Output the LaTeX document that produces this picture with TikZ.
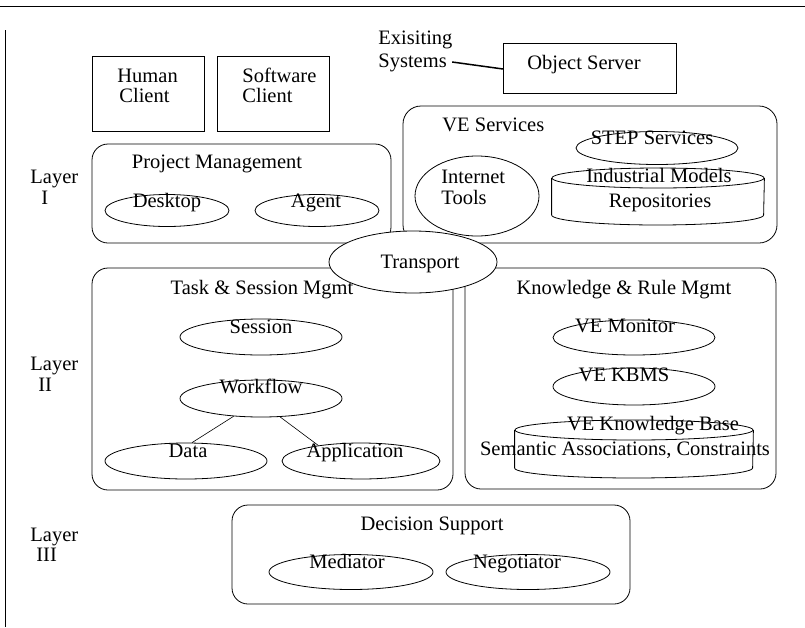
\documentclass[tikz,border=0pt]{standalone}
\usepackage{fontspec}
\setmainfont{Liberation Serif}
\usetikzlibrary{shapes.geometric}
\begin{document}
\begin{tikzpicture}[x=1pt,y=-1pt,line width=0.8pt,
  txt/.style={font=\fontsize{20.5}{24}\selectfont,inner sep=0pt,text height=14pt,text depth=4pt},
  rbox/.style={draw,rectangle,inner sep=0pt},
  grp/.style={draw,rectangle,rounded corners=16pt,inner sep=0pt},
  ell/.style={draw,ellipse,inner sep=0pt},
]
\useasboundingbox (0,0) rectangle (805,627);
% frame lines
\coordinate (tl) at (0,6);
\coordinate (tr) at (805,6);
\coordinate (lt) at (5,30);
\coordinate (lb) at (5,627);
\draw (tl) -- (tr);
\draw (lt) -- (lb);

% top row
\node[rbox,minimum width=112pt,minimum height=75pt] (human) at (148,93.5) {};
\node[txt,anchor=west] (humanA) at (117,77) {Human};
\node[txt,anchor=west] (humanB) at (119,97) {Client};
\node[rbox,minimum width=112pt,minimum height=75pt] (soft) at (273,93.5) {};
\node[txt,anchor=west] (softA) at (242,77) {Software};
\node[txt,anchor=west] (softB) at (242,97) {Client};
\node[rbox,minimum width=173pt,minimum height=50pt] (obj) at (589.5,68) {};
\node[txt] (objt) at (584,64) {Object Server};
\node[txt,anchor=west] (exis) at (378,39) {Exisiting};
\node[txt,anchor=west] (sys) at (378,62) {Systems};
\coordinate (objin) at (503,69);
\draw[line width=1.5pt] ([xshift=5pt]sys.east) -- (objin);

% Layer I
\node[txt,anchor=west] (l1a) at (30,178) {Layer};
\node[txt,anchor=west] (l1b) at (41,199) {I};
\node[grp,minimum width=299pt,minimum height=99pt] (pm) at (241.5,193.5) {};
\node[txt] (pmt) at (217,163) {Project Management};
\node[ell,minimum width=124pt,minimum height=32pt] (desk) at (167,210.5) {};
\node[txt] (deskt) at (167,202) {Desktop};
\node[ell,minimum width=124pt,minimum height=32pt] (agent) at (317,210.5) {};
\node[txt] (agentt) at (316,202) {Agent};

\node[grp,rounded corners=18pt,minimum width=374pt,minimum height=137pt] (ves) at (590,174.5) {};
\node[txt,anchor=west] (vest) at (442,126) {VE Services};
\node[ell,minimum width=124pt,minimum height=80pt] (inet) at (477,196) {};
\node[txt,anchor=west] (ineta) at (441,178) {Internet};
\node[txt,anchor=west] (inetb) at (441,199) {Tools};
\node[ell,minimum width=162pt,minimum height=33pt] (step) at (657,148) {};
\node[txt] (stept) at (652,139) {STEP Services};
\node[ell,minimum width=212pt,minimum height=20pt] (indtop) at (658,178) {};
\draw (indtop.west) -- ++(0,37) arc[start angle=180,end angle=360,x radius=106pt,y radius=10pt] -- (indtop.east);
\node[txt] (inda) at (659,177) {Industrial Models};
\node[txt] (indb) at (660,202) {Repositories};

% Layer II
\node[txt,anchor=west] (l2a) at (30,365) {Layer};
\node[txt,anchor=west] (l2b) at (38,386) {II};
\node[grp,minimum width=361pt,minimum height=222pt] (task) at (272.5,379) {};
\node[txt] (taskt) at (262,289) {Task \& Session Mgmt};
\node[ell,minimum width=162pt,minimum height=36pt] (sess) at (261,337) {};
\node[txt] (sesst) at (261,328) {Session};
\node[ell,minimum width=162pt,minimum height=37pt] (wf) at (261,398.5) {};
\node[txt] (wft) at (261,388) {Workflow};
\node[ell,minimum width=162pt,minimum height=36pt] (data) at (186,461) {};
\node[txt] (datat) at (188,452) {Data};
\node[ell,minimum width=158pt,minimum height=36pt] (app) at (361,461) {};
\node[txt] (appt) at (355,452) {Application};
\draw[line width=0.6pt] (wf.213) -- (data.72);
\draw[line width=0.6pt] (wf.316) -- (app.160);

\node[grp,minimum width=311pt,minimum height=221pt] (know) at (620.5,378.5) {};
\node[txt] (knowt) at (624,289) {Knowledge \& Rule Mgmt};
\node[ell,minimum width=162pt,minimum height=35pt] (mon) at (634,337.5) {};
\node[txt] (mont) at (625,327) {VE Monitor};
\node[ell,minimum width=162pt,minimum height=37pt] (kbms) at (634,386.5) {};
\node[txt] (kbmst) at (624,376) {VE KBMS};
\node[ell,minimum width=238pt,minimum height=20pt] (kbtop) at (634,430) {};
\draw (kbtop.west) -- ++(0,38) arc[start angle=180,end angle=360,x radius=119pt,y radius=10pt] -- (kbtop.east);
\node[txt] (kba) at (653,425) {VE Knowledge Base};
\node[txt] (kbb) at (625,450) {Semantic Associations, Constraints};

% Transport on top
\node[ell,fill=white,minimum width=168pt,minimum height=62pt] (trans) at (413,262) {};
\node[txt] (transt) at (420,263) {Transport};

% Layer III
\node[txt,anchor=west] (l3a) at (30,536) {Layer};
\node[txt,anchor=west] (l3b) at (36,556) {III};
\node[grp,minimum width=398pt,minimum height=99pt] (dec) at (431,554.5) {};
\node[txt] (dect) at (432,525) {Decision Support};
\node[ell,minimum width=164pt,minimum height=35pt] (med) at (351,572) {};
\node[txt] (medt) at (347,563) {Mediator};
\node[ell,minimum width=164pt,minimum height=35pt] (neg) at (528,572) {};
\node[txt] (negt) at (517,563) {Negotiator};
\end{tikzpicture}
\end{document}
